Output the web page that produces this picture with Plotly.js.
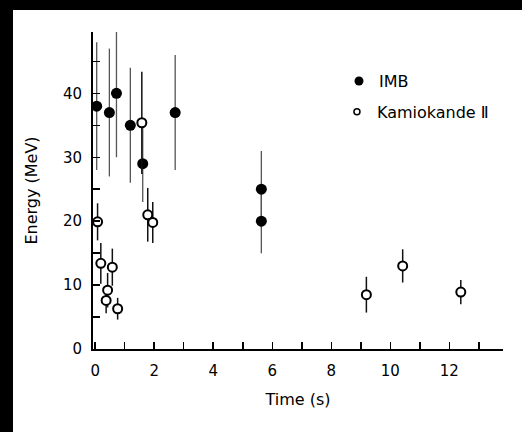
<!DOCTYPE html>
<html>
<head>
<meta charset="utf-8">
<script src="https://cdn.plot.ly/plotly-3.0.1.min.js"></script>
<style>
html,body{margin:0;padding:0;background:#000;width:522px;height:432px;overflow:hidden;}
#chart{position:absolute;left:13px;top:10px;width:509px;height:422px;background:#fff;}
</style>
</head>
<body>
<div id="chart"></div>
<script>
// IMB events
const imbTime = [0.05, 0.48, 0.72, 1.19, 1.61, 2.71, 5.63, 5.63];
const imbEnergy = [38, 37, 40, 35, 29, 37, 25, 20];
const imbError = [10, 10, 10, 9, 6, 9, 6, 5];
// Kamiokande II events
const kamTime = [0.08, 0.19, 0.42, 0.37, 0.58, 0.76, 1.58, 1.78, 1.95, 9.19, 10.42, 12.39];
const kamEnergy = [19.9, 13.4, 9.2, 7.6, 12.8, 6.3, 35.4, 21.0, 19.8, 8.5, 13.0, 8.9];
const kamError = [2.9, 3.2, 2.7, 2.0, 2.9, 1.7, 8.0, 4.2, 3.2, 2.8, 2.6, 1.9];
const seriesNames = ["IMB", "Kamiokande \u2161"];

const FONT = "DejaVu Sans, Arial, sans-serif";

const traces = [
  {
    x: imbTime, y: imbEnergy, type: "scatter", mode: "markers",
    name: seriesNames[0], showlegend: false, cliponaxis: false,
    marker: {symbol: "circle", size: 11, color: "#000"},
    error_y: {type: "data", array: imbError, visible: true, width: 0, thickness: 1.3, color: "#555"}
  },
  {
    x: kamTime, y: kamEnergy, type: "scatter", mode: "markers",
    name: seriesNames[1], showlegend: false, cliponaxis: false,
    marker: {symbol: "circle", size: 9, color: "#fff", line: {color: "#000", width: 2}},
    error_y: {type: "data", array: kamError, visible: true, width: 0, thickness: 1.5, color: "#111"}
  },
  {
    x: [null], y: [null], type: "scatter", mode: "markers", name: seriesNames[0],
    legend: "legend", marker: {symbol: "circle", size: 9, color: "#000"}
  },
  {
    x: [null], y: [null], type: "scatter", mode: "markers", name: seriesNames[1],
    legend: "legend2", marker: {symbol: "circle", size: 6, color: "#fff", line: {color: "#000", width: 1.5}}
  }
];

const layout = {
  width: 509, height: 422,
  margin: {l: 80, r: 19, t: 22, b: 83, pad: 0},
  paper_bgcolor: "#fff", plot_bgcolor: "#fff",
  font: {family: FONT, color: "#000", size: 15},
  showlegend: true,
  xaxis: {
    range: [-0.075, 13.82], showgrid: false, zeroline: false,
    showline: true, linecolor: "#000", linewidth: 2,
    tickmode: "linear", tick0: 0, dtick: 2,
    ticks: "inside", ticklen: 7, tickwidth: 1.5, tickcolor: "#000",
    minor: {tickmode: "linear", tick0: 0, dtick: 1, ticks: "inside", ticklen: 7, tickwidth: 1.5, tickcolor: "#000", showgrid: false},
    tickfont: {family: FONT, size: 15, color: "#000"},
    ticklabelstandoff: 7,
    title: {text: "Time (s)", font: {family: FONT, size: 16, color: "#000"}, standoff: 15}
  },
  yaxis: {
    range: [0, 49.6], showgrid: false, zeroline: false,
    showline: true, linecolor: "#000", linewidth: 2,
    tickmode: "linear", tick0: 0, dtick: 10,
    ticks: "inside", ticklen: 7, tickwidth: 1.5, tickcolor: "#000",
    minor: {tickmode: "linear", tick0: 0, dtick: 5, ticks: "inside", ticklen: 7, tickwidth: 1.5, tickcolor: "#000", showgrid: false},
    tickfont: {family: FONT, size: 15, color: "#000"},
    ticklabelstandoff: 6,
    title: {text: "Energy (MeV)", font: {family: FONT, size: 16, color: "#000"}, standoff: 21}
  },
  legend: {
    x: 0.60, y: 0.845, xanchor: "left", yanchor: "middle",
    bgcolor: "rgba(0,0,0,0)", borderwidth: 0,
    font: {family: FONT, size: 16, color: "#000"}
  },
  legend2: {
    x: 0.595, y: 0.748, xanchor: "left", yanchor: "middle",
    bgcolor: "rgba(0,0,0,0)", borderwidth: 0,
    font: {family: FONT, size: 16, color: "#000"}
  }
};

Plotly.newPlot("chart", traces, layout, {displayModeBar: false, staticPlot: true});
</script>
</body>
</html>
